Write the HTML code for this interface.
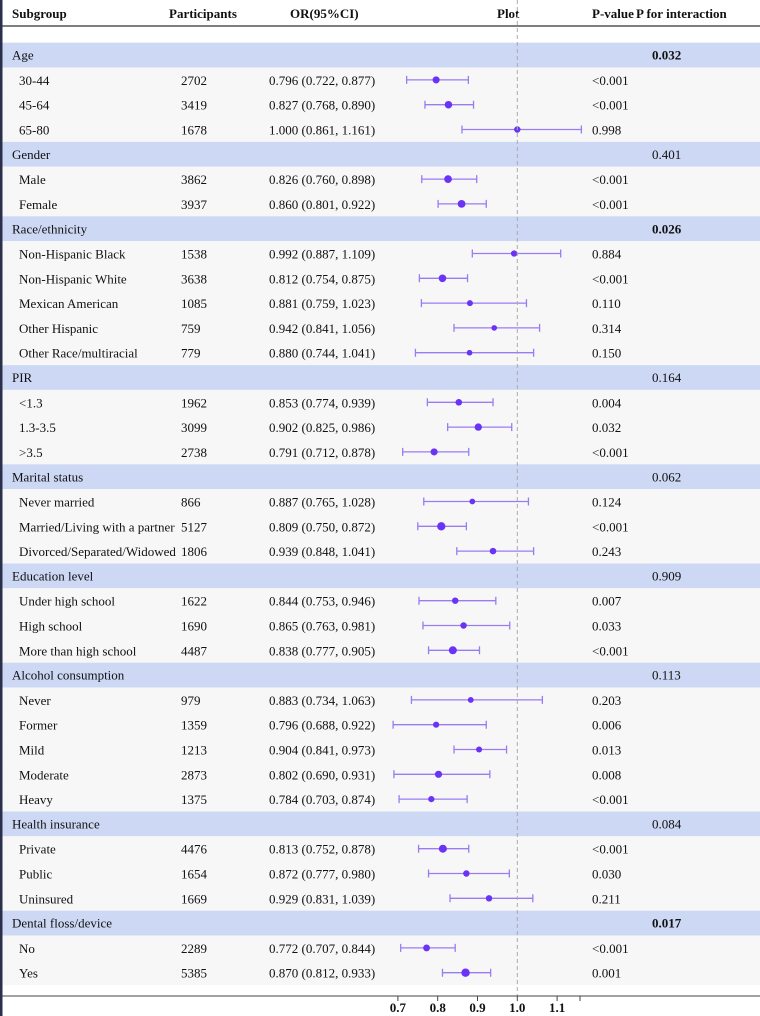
<!DOCTYPE html>
<html><head><meta charset="utf-8"><style>
html,body{margin:0;padding:0;background:#fff}
svg{display:block;font-family:"Liberation Serif","Times New Roman",serif}
svg text{font-family:"Liberation Serif","Times New Roman",serif;font-size:13px;fill:#111}
.b{font-weight:bold}
</style></head><body>
<svg id="c" width="760" height="1016" font-family="Liberation Serif, serif"></svg>
<script>
const groups=["Age","Gender","Race/ethnicity","PIR","Marital status","Education level","Alcohol consumption","Health insurance","Dental floss/device"];
const pInteraction=["0.032","0.401","0.026","0.164","0.062","0.909","0.113","0.084","0.017"];
const boldInteraction=[true,false,true,false,false,false,false,false,true];
const subgroups=[["30-44","45-64","65-80"],["Male","Female"],["Non-Hispanic Black","Non-Hispanic White","Mexican American","Other Hispanic","Other Race/multiracial"],["<1.3","1.3-3.5",">3.5"],["Never married","Married/Living with a partner","Divorced/Separated/Widowed"],["Under high school","High school","More than high school"],["Never","Former","Mild","Moderate","Heavy"],["Private","Public","Uninsured"],["No","Yes"]];
const participants=[[2702,3419,1678],[3862,3937],[1538,3638,1085,759,779],[1962,3099,2738],[866,5127,1806],[1622,1690,4487],[979,1359,1213,2873,1375],[4476,1654,1669],[2289,5385]];
const orVals=[[0.796,0.827,1.000],[0.826,0.860],[0.992,0.812,0.881,0.942,0.880],[0.853,0.902,0.791],[0.887,0.809,0.939],[0.844,0.865,0.838],[0.883,0.796,0.904,0.802,0.784],[0.813,0.872,0.929],[0.772,0.870]];
const lowVals=[[0.722,0.768,0.861],[0.760,0.801],[0.887,0.754,0.759,0.841,0.744],[0.774,0.825,0.712],[0.765,0.750,0.848],[0.753,0.763,0.777],[0.734,0.688,0.841,0.690,0.703],[0.752,0.777,0.831],[0.707,0.812]];
const highVals=[[0.877,0.890,1.161],[0.898,0.922],[1.109,0.875,1.023,1.056,1.041],[0.939,0.986,0.878],[1.028,0.872,1.041],[0.946,0.981,0.905],[1.063,0.922,0.973,0.931,0.874],[0.878,0.980,1.039],[0.844,0.933]];
const pVals=[["<0.001","<0.001","0.998"],["<0.001","<0.001"],["0.884","<0.001","0.110","0.314","0.150"],["0.004","0.032","<0.001"],["0.124","<0.001","0.243"],["0.007","0.033","<0.001"],["0.203","0.006","0.013","0.008","<0.001"],["<0.001","0.030","0.211"],["<0.001","0.001"]];
const ticks=[0.7,0.8,0.9,1.0,1.1];

const svg=document.getElementById('c');
const NS="http://www.w3.org/2000/svg";
function el(t,a,p){const e=document.createElementNS(NS,t);for(const k in a)e.setAttribute(k,a[k]);(p||svg).appendChild(e);return e;}
function tx(x,y,s,cls,anchor){const e=el('text',{x:x,y:y,'font-family':'Liberation Serif, serif','font-size':13});e.textContent=s;if(cls)e.setAttribute('class',cls);if(anchor)e.setAttribute('text-anchor',anchor);return e;}
const xScale=v=>517.3+(v-1.0)*398;
const ROW=24.8, TOP=42.7;
const yRow=i=>TOP+i*ROW;
const maxN=5385;

let r=0;
groups.forEach((g,gi)=>{
  let b=el('rect',{x:0,y:yRow(r),width:760,height:ROW,fill:'#cdd8f4'});
  
  
  let t=tx(12,yRow(r)+17,g);
  
  
  let pi=tx(652,yRow(r)+17,pInteraction[gi],boldInteraction[gi]?'b':'');
  
  
  r++;
  subgroups[gi].forEach((s,si)=>{
    const y0=yRow(r), yc=y0+ROW/2;
    let bg=el('rect',{x:0,y:y0,width:760,height:ROW,fill:'#f7f7f7'});
    
    
    tx(19,yc+5,s);
    tx(181,yc+5,String(participants[gi][si]));
    const o=orVals[gi][si],lo=lowVals[gi][si],hi=highVals[gi][si];
    tx(269,yc+5,o.toFixed(3)+" ("+lo.toFixed(3)+", "+hi.toFixed(3)+")");
    tx(592,yc+5,pVals[gi][si]);
    const x1=xScale(lo),x2=xScale(hi);
    let ln=el('path',{d:`M${x1},${yc}H${x2}M${x1},${yc-4}V${yc+4}M${x2},${yc-4}V${yc+4}`,stroke:'#9a7cf2','stroke-width':1.3,fill:'none'});
    
    
    const rad=2+2.2*Math.sqrt(participants[gi][si]/maxN);
    let pt=el('circle',{cx:xScale(o),cy:yc,r:rad,fill:'#6a33f5'});
    
    
    r++;
  });
});
[["Subgroup",12],["Participants",169],["OR(95%CI)",290],["Plot",497],["P-value",592],["P for interaction",636]].forEach(h=>{
  let t=tx(h[1],18,h[0],'b');
});
el('line',{x1:0,y1:26,x2:760,y2:26,stroke:'#333','stroke-width':1.2});
let rl=el('line',{x1:xScale(1),y1:0,x2:xScale(1),y2:996,stroke:'#aaa','stroke-width':1,'stroke-dasharray':'4,3'});


el('line',{x1:0,y1:996,x2:760,y2:996,stroke:'#444','stroke-width':1});
ticks.forEach(v=>{
  let tk=el('line',{x1:xScale(v),y1:996,x2:xScale(v),y2:1001,stroke:'#444'});
  
  let tl=tx(xScale(v),1012,v.toFixed(1),'b','middle');
  
  
});
el('line',{x1:580,y1:996,x2:580,y2:1001,stroke:'#444'});
el('rect',{x:0,y:0,width:2.5,height:1016,fill:'#2a2f4a'});
</script>
</body></html>
